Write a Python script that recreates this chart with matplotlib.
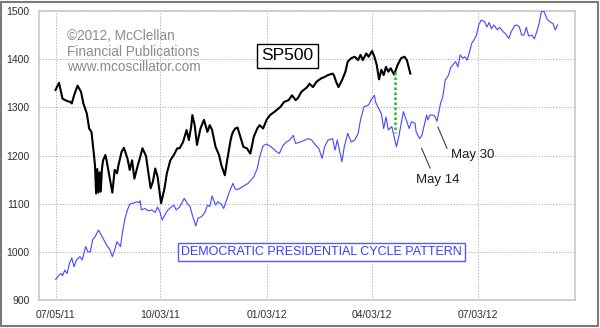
import numpy as np
import matplotlib
matplotlib.use("Agg")
import matplotlib.pyplot as plt
import matplotlib.dates as mdates
from matplotlib.patches import Rectangle

plt.rcParams['font.family'] = ['Liberation Sans', 'DejaVu Sans']

# ---------------- data (day offsets from 2011-07-05) ----------------
start_date = np.datetime64('2011-07-05')

sp_days = [0, 3, 6, 10, 13, 14, 16, 19, 22, 24, 27, 29, 31, 33, 34, 35, 36, 37, 38,
           39, 40, 41, 43, 44, 46, 49, 51, 53, 54, 57, 59, 62, 64, 66, 68, 71, 73,
           75, 78, 82, 84, 86, 88, 91, 94, 96, 99, 102, 105, 107, 110, 113, 115,
           117, 118, 120, 122, 124, 125, 128, 131, 133, 135, 138, 141, 143, 146,
           148, 151, 152, 153, 155, 157, 159, 162, 165, 168, 171, 174, 176, 179,
           182, 185, 189, 194, 197, 201, 204, 207, 209, 212, 217, 219, 222, 225,
           229, 232, 235, 239, 240, 242, 244, 247, 250, 252, 255, 258, 261, 263,
           265, 268, 270, 273, 275, 277, 279, 281, 283, 285, 287, 289, 292, 295,
           298, 301, 303, 306]
sp_vals = [1336, 1351, 1318, 1313, 1311, 1308, 1325, 1345, 1332, 1308, 1287, 1256,
           1249, 1204, 1180, 1121, 1172, 1123, 1165, 1125, 1172, 1190, 1201, 1190,
           1163, 1123, 1170, 1163, 1177, 1208, 1216, 1194, 1170, 1190, 1152, 1180,
           1197, 1215, 1199, 1132, 1146, 1173, 1156, 1101, 1132, 1163, 1190, 1201,
           1215, 1215, 1228, 1253, 1232, 1260, 1284, 1263, 1222, 1245, 1256, 1274,
           1249, 1263, 1253, 1218, 1201, 1180, 1159, 1190, 1232, 1242, 1249, 1256,
           1258, 1242, 1218, 1215, 1204, 1239, 1256, 1263, 1256, 1274, 1284, 1291,
           1301, 1311, 1315, 1325, 1315, 1319, 1332, 1342, 1349, 1342, 1353, 1360,
           1363, 1367, 1370, 1367, 1353, 1342, 1356, 1374, 1395, 1402, 1405, 1398,
           1409, 1398, 1412, 1405, 1417, 1405, 1388, 1358, 1378, 1367, 1384, 1374,
           1381, 1368, 1388, 1402, 1405, 1398, 1370]

cycle_days = [0, 1, 3, 5, 6, 8, 10, 12, 14, 16, 18, 21, 23, 26, 28, 30, 32, 34, 37,
              39, 41, 44, 47, 49, 51, 53, 56, 58, 60, 62, 64, 67, 70, 72, 73, 74, 77,
              80, 83, 86, 88, 90, 92, 95, 97, 100, 102, 104, 107, 111, 114, 116, 118,
              121, 123, 126, 129, 131, 133, 135, 138, 140, 143, 145, 147, 150, 153,
              155, 158, 161, 166, 171, 174, 176, 179, 182, 186, 189, 193, 196, 199,
              202, 205, 207, 211, 215, 218, 221, 224, 227, 230, 232, 235, 239, 241,
              243, 247, 249, 252, 255, 258, 261, 263, 266, 270, 272, 275, 276, 278,
              281, 283, 285, 287, 290, 294, 296, 300, 303, 305, 307, 310, 311, 314,
              316, 318, 320, 321, 323, 325, 327, 329, 332, 334, 336, 339, 341, 343,
              345, 347, 349, 351, 353, 355, 357, 359, 361, 363, 365, 367, 370, 372,
              374, 376, 378, 381, 383, 386, 388, 391, 393, 396, 398, 400, 402, 404,
              406, 408, 411, 413, 415, 417, 419, 421, 424, 426, 429, 431, 433]
cycle_vals = [943, 945, 952, 955, 950, 962, 955, 976, 987, 969, 983, 990, 983, 1011,
              1000, 1000, 1025, 1031, 1045, 1037, 1028, 1014, 1004, 990, 1004, 1021,
              1011, 1045, 1070, 1087, 1099, 1101, 1104, 1102, 1106, 1087, 1090, 1085,
              1087, 1082, 1093, 1083, 1066, 1080, 1087, 1093, 1097, 1087, 1093, 1111,
              1099, 1094, 1076, 1054, 1070, 1073, 1083, 1097, 1094, 1116, 1097, 1104,
              1099, 1090, 1104, 1125, 1142, 1130, 1130, 1135, 1142, 1156, 1173, 1197,
              1220, 1224, 1218, 1211, 1204, 1220, 1228, 1232, 1242, 1225, 1228, 1232,
              1235, 1232, 1222, 1215, 1194, 1218, 1232, 1235, 1211, 1232, 1187, 1218,
              1246, 1228, 1232, 1246, 1274, 1301, 1305, 1315, 1325, 1311, 1301, 1287,
              1256, 1280, 1253, 1260, 1218, 1239, 1291, 1270, 1256, 1270, 1267, 1249,
              1235, 1242, 1263, 1284, 1274, 1284, 1284, 1282, 1271, 1308, 1322, 1356,
              1367, 1384, 1389, 1395, 1384, 1409, 1402, 1405, 1398, 1415, 1433, 1440,
              1450, 1471, 1481, 1478, 1467, 1476, 1463, 1471, 1461, 1466, 1457, 1453,
              1443, 1457, 1470, 1471, 1467, 1450, 1450, 1466, 1448, 1450, 1442, 1457,
              1474, 1498, 1500, 1483, 1478, 1474, 1461, 1471]

tick_dates = ['2011-07-05', '2011-10-03', '2012-01-03', '2012-04-03', '2012-07-03']
y_ticks = [900, 1000, 1100, 1200, 1300, 1400, 1500]

# ---------------- figure ----------------
W, H = 600, 328
fig = plt.figure(figsize=(W / 100, H / 100), dpi=100)
fig.patch.set_facecolor('white')
ax = fig.add_axes([39.3 / W, 1 - 300 / H, (575 - 39.3) / W, (300 - 11) / H])

sp_x = start_date + np.array(sp_days).astype('timedelta64[D]')
cy_x = start_date + np.array(cycle_days).astype('timedelta64[D]')

ax.plot(cy_x, cycle_vals, color='#4646ff', lw=0.8, zorder=3)
ax.plot(sp_x, sp_vals, color='black', lw=1.5, zorder=4)

ax.set_ylim(900, 1500)
ax.set_xlim(start_date - np.timedelta64(14, 'D'), start_date + np.timedelta64(448, 'D'))
ax.set_yticks(y_ticks)
ax.set_xticks([np.datetime64(d) for d in tick_dates])
ax.xaxis.set_major_formatter(mdates.DateFormatter('%m/%d/%y'))
ax.tick_params(length=0, labelsize=7.5, colors='#303030', pad=7)
ax.grid(True, color='#b8b8b8', linestyle=(0, (1.5, 1.5)), lw=0.7)
for s in ax.spines.values():
    s.set_color('#c8c8c8')
    s.set_linewidth(1.2)

def d2x(day):
    return start_date + np.timedelta64(int(round(day * 24)), 'h')

# green dotted connector
ax.plot([d2x(293), d2x(293)], [1374, 1246], color='#22bb22', lw=1.8,
        linestyle=(0, (1, 1)), zorder=5)

# annotation leader lines and labels
ax.plot([d2x(329.8), d2x(337.6)], [1259, 1215], color='#404040', lw=0.8, zorder=5)
ax.plot([d2x(315.7), d2x(323)], [1215, 1174], color='#404040', lw=0.8, zorder=5)
ax.text(d2x(360), 1202, 'May 30', fontsize=9.5, color='#202020',
        ha='center', va='center')
ax.text(d2x(330), 1149, 'May 14', fontsize=9.5, color='#202020',
        ha='center', va='center')

# watermark
for txt, yb in [('©2012, McClellan', 40), ('Financial Publications', 55.5),
                ('www.mcoscillator.com', 71)]:
    fig.text(67 / W, 1 - yb / H, txt, fontsize=9.8, color='#8c8c8c',
             ha='left', va='baseline')

# SP500 label
fig.text(287.5 / W, 1 - 56 / H, 'SP500', fontsize=12.5, color='black',
         ha='center', va='center',
         bbox=dict(boxstyle='square,pad=0.25', fc='white', ec='black', lw=1.0))

# pattern label
fig.text(321.5 / W, 1 - 252 / H, 'DEMOCRATIC PRESIDENTIAL CYCLE PATTERN',
         fontsize=9.0, color='#3a3aff', ha='center', va='center',
         bbox=dict(boxstyle='square,pad=0.22', fc='white', ec='#5a5aff', lw=1.0))

# outer frame
fig.patches.append(Rectangle((1 / W, 2 / H), 596.5 / W, 324.5 / H,
                             transform=fig.transFigure, fill=False,
                             ec='#7a7a7a', lw=1.5))

fig.savefig('out.png', dpi=100)
